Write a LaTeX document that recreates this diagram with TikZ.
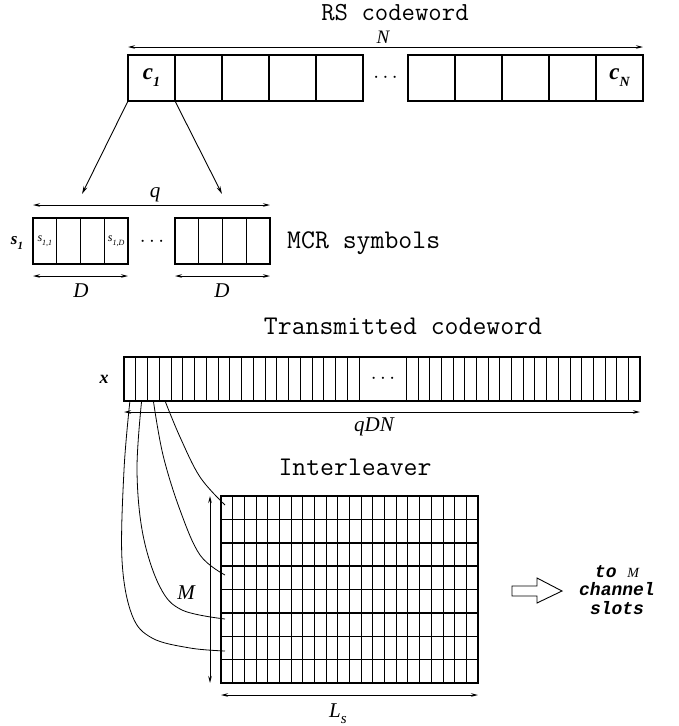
\documentclass[tikz,border=0pt]{standalone}
\usepackage{fontspec}
\setmainfont{Liberation Serif}
\newfontfamily\bimono{Liberation Mono}
\usetikzlibrary{arrows.meta}
\newcommand\ttl{\ttfamily\fontsize{27}{30}\selectfont}
\newcommand\lab{\rmfamily\itshape\fontsize{21}{22}\selectfont}
\newcommand\bil{\rmfamily\bfseries\itshape}
\begin{document}
\begin{tikzpicture}[x=1pt,y=-1pt,
  tbox/.style={draw,line width=1.3pt,minimum width=47pt,minimum height=46pt,inner sep=0pt,outer sep=0pt},
  mbox/.style={draw,line width=1.2pt,minimum width=23.75pt,minimum height=46pt,inner sep=0pt,outer sep=0pt},
  dim/.style={line width=0.9pt,{Stealth[length=7pt,width=3.5pt]}-{Stealth[length=7pt,width=3.5pt]}},
  pto/.style={line width=0.9pt,-{Stealth[length=8pt,width=4pt]}},
  wire/.style={line width=0.8pt},
  thinline/.style={line width=0.9pt},
  ttltext/.style={font=\ttl,inner sep=0pt},
  labtext/.style={font=\lab,inner sep=0pt}]
\useasboundingbox (0,0) rectangle (679,726);

% ---------- RS codeword ----------
\node[ttltext,font=\ttfamily\fontsize{26}{28}\selectfont] (rs) at (395,13) {RS codeword};
\node[labtext,font=\rmfamily\itshape\fontsize{19}{20}\selectfont] (nlab) at (383,37) {N};
\foreach \k in {0,...,4} {
  \node[tbox] (ta\k) at ({151.5+47*\k},78) {};
  \node[tbox] (tb\k) at ({431.5+47*\k},78) {};
}
\draw[dim] (ta0.north west |- 0,47) -- (tb4.north east |- 0,47);
\node[inner sep=0pt,font=\fontsize{20}{20}\selectfont] (tdots) at (385.5,78) {$\cdots$};
\node[inner sep=0pt] (c1) at (ta0) {\fontsize{23}{23}\selectfont\bil c\raisebox{-0.3em}{\fontsize{14}{14}\selectfont 1}};
\node[inner sep=0pt] (cN) at (tb4) {\fontsize{23}{23}\selectfont\bil c\raisebox{-0.3em}{\fontsize{14}{14}\selectfont N}};
\coordinate (qa) at (82,194);
\coordinate (qb) at (222,194);
\draw[pto] (ta0.south west) -- (qa);
\draw[pto] (ta0.south east) -- (qb);

% ---------- MCR symbols ----------
\node[labtext] (qlab) at (155,195) {q};
\foreach \k in {0,...,3} {
  \node[mbox] (ma\k) at ({44.875+23.75*\k},241) {};
  \node[mbox] (mb\k) at ({186.875+23.75*\k},241) {};
}
\draw[dim] (ma0.west |- 0,205) -- (mb3.east |- 0,205);
\node[inner sep=0pt,font=\fontsize{20}{20}\selectfont] (mdots) at (152,242) {$\cdots$};
\node[inner sep=0pt] (s1) at (17,243) {\fontsize{17}{17}\selectfont\bil s\raisebox{-0.3em}{\fontsize{11}{11}\selectfont 1}};
\node[inner sep=0pt] (s11) at (ma0) {\fontsize{12}{12}\selectfont\itshape s\raisebox{-0.3em}{\fontsize{8}{8}\selectfont 1,1}};
\node[inner sep=0pt] (s1D) at (ma3) {\fontsize{12}{12}\selectfont\itshape s\raisebox{-0.3em}{\fontsize{8}{8}\selectfont 1,D}};
\node[ttltext,anchor=west] (mcr) at (287,243) {MCR symbols};
\draw[dim] (ma0.west |- 0,276) -- (ma3.east |- 0,276);
\draw[dim] (mb0.west |- 0,276) -- (mb3.east |- 0,276);
\node[labtext] (d1) at (81,291) {D};
\node[labtext] (d2) at (222,291) {D};

% ---------- Transmitted codeword ----------
\node[ttltext] (tc) at (403,326) {Transmitted codeword};
\node[draw,line width=1.3pt,minimum width=516pt,minimum height=44pt,inner sep=0pt,outer sep=0pt] (xrow) at (382,379) {};
\foreach \i in {1,...,20}
  \draw[thinline] ({124+11.75*\i},357) -- ({124+11.75*\i},401);
\foreach \i in {0,...,19}
  \draw[thinline] ({406.5+11.675*\i},357) -- ({406.5+11.675*\i},401);
\coordinate (xc1) at (129.9,401);
\coordinate (xc2) at (141.6,401);
\coordinate (xc3) at (153.4,401);
\coordinate (xc4) at (165.1,401);
\node[inner sep=0pt,font=\fontsize{20}{20}\selectfont] (xdots) at (383,379) {$\cdots$};
\node[inner sep=0pt] (xlab) at (104,379) {\fontsize{18}{18}\selectfont\bil x};
\draw[dim] (xrow.west |- 0,412) -- (xrow.east |- 0,412);
\node[labtext] (qdn) at (374,427) {qDN};

% ---------- Interleaver ----------
\node[ttltext] (il) at (355,467) {Interleaver};
\node[draw,line width=1.4pt,minimum width=257pt,minimum height=187pt,inner sep=0pt,outer sep=0pt] (grid) at (349.5,589.5) {};
\foreach \k in {1,...,21}
  \draw[thinline] ({221+257/22*\k},496) -- ({221+257/22*\k},683);
\foreach \k in {1,...,7}
  \draw[line width=1.5pt] (221,{496+187/8*\k}) -- (478,{496+187/8*\k});
\draw[dim] (grid.north west -| 210,0) -- (grid.south west -| 210,0);
\node[labtext] (mlab) at (186,593) {M};
\draw[dim] (grid.south west |- 0,695) -- (grid.south east |- 0,695);
\node[labtext] (ls) at (338,714) {L\raisebox{-0.3em}{\fontsize{15}{15}\selectfont s}};

\coordinate (r1) at (225,505);
\coordinate (r4) at (225,575);
\coordinate (r6) at (225,619);
\coordinate (r7) at (225,651);
\draw[wire] plot[smooth,tension=0.6] coordinates {(xc1) (124,470) (122,560) (132,615) (152,638) (190,648) (r7)};
\draw[wire] plot[smooth,tension=0.6] coordinates {(xc2) (137,470) (143,535) (160,587) (182,610) (r6)};
\draw[wire] plot[smooth,tension=0.6] coordinates {(xc3) (163,455) (180,510) (200,555) (r4)};
\draw[wire] plot[smooth,tension=0.6] coordinates {(xc4) (180,437) (200,477) (r1)};

% ---------- output ----------
\draw[line width=0.9pt] (512,586) -- (537,586) -- (537,578) -- (562,591) -- (537,603) -- (537,596) -- (512,596) -- cycle;
\node[inner sep=0pt,align=center,font=\bimono\bfseries\itshape\fontsize{18}{18.5}\selectfont] (out) at (617,590)
  {to {\normalfont\rmfamily\itshape\fontsize{14}{14}\selectfont M}\\channel\\ slots};
\end{tikzpicture}
\end{document}
